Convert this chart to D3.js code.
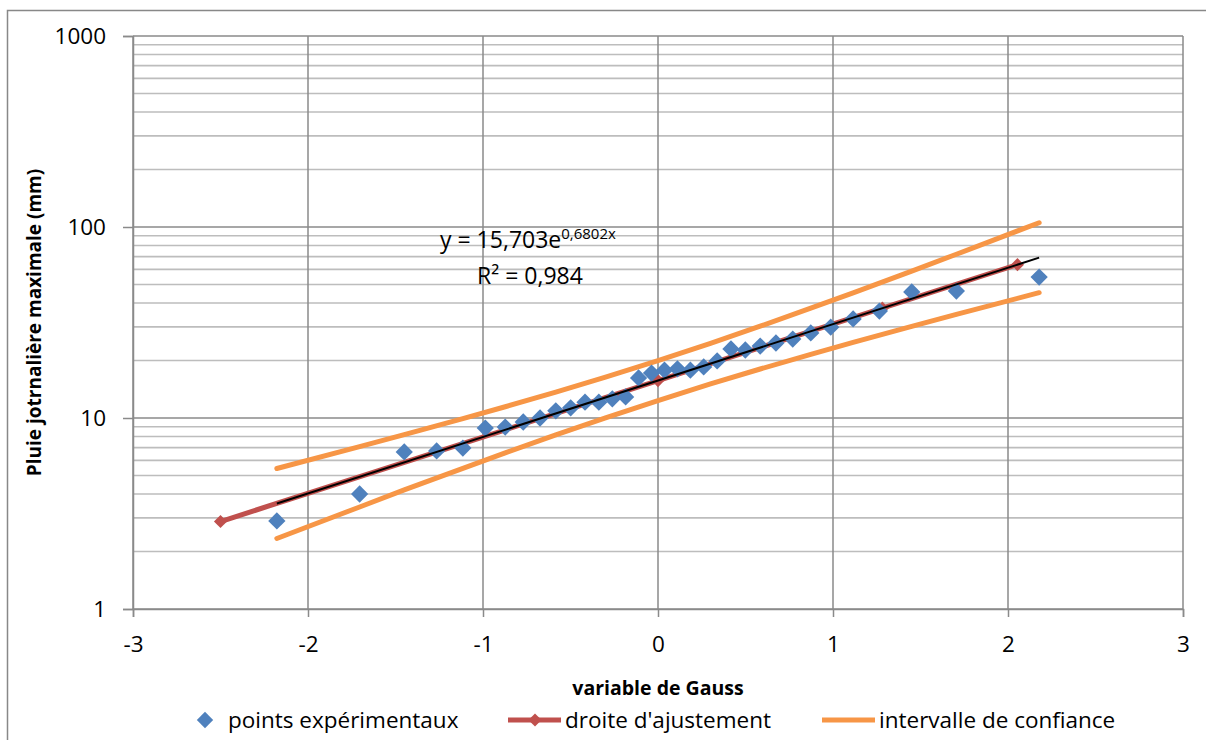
<!DOCTYPE html>
<html>
<head>
<meta charset="utf-8">
<script src="https://cdn.jsdelivr.net/npm/d3@7"></script>
<style>
  body { margin: 0; background: #fff; }
  svg { display: block; font-family: "Open Sans", "DejaVu Sans", sans-serif; }
</style>
</head>
<body>
<div class="chart"></div>
<script>
// gauss variable of each sorted observation
const gaussX = [-2.178, -1.705, -1.450, -1.265, -1.115, -0.987, -0.873, -0.770, -0.674, -0.584,
  -0.499, -0.417, -0.338, -0.261, -0.185, -0.111, -0.037, 0.037, 0.111, 0.185,
  0.261, 0.338, 0.417, 0.499, 0.584, 0.674, 0.770, 0.873, 0.987, 1.115,
  1.265, 1.450, 1.705, 2.178];
// max daily rainfall (mm)
const rainMM = [2.89, 4.0, 6.64, 6.72, 6.96, 8.86, 8.97, 9.53, 10.0, 10.9,
  11.3, 12.1, 12.1, 12.6, 12.9, 16.2, 17.2, 17.8, 18.1, 17.8,
  18.5, 19.9, 23.0, 22.7, 23.8, 24.7, 25.9, 27.9, 29.9, 33.0,
  36.3, 45.7, 46.2, 54.7];

// droite d'ajustement
const fitX = [-2.5, 0, 1.282, 2.054];
const fitY = [2.87, 15.7, 37.6, 63.5];

// excel trendline end points
const trendX = [-2.178, 2.178];
const trendY = [3.57, 69.1];

// intervalle de confiance
const bandX = [-2.178, -1.705, -1.45, -1.115, -0.873, -0.584, -0.3, 0, 0.3, 0.584, 0.873, 1.115, 1.45, 1.705, 2.178];
const bandUpper = [5.44, 7.08, 8.18, 9.92, 11.45, 13.67, 16.37, 19.98, 24.62, 30.24, 37.56, 45.23, 58.76, 72.0, 105.3];
const bandLower = [2.34, 3.42, 4.20, 5.45, 6.57, 8.15, 10.02, 12.34, 15.07, 18.05, 21.54, 24.86, 30.16, 34.85, 45.3];

const xTicks = [-3, -2, -1, 0, 1, 2, 3];
const yTicks = [1, 10, 100, 1000];

const W = 1206, H = 740;
const plot = { left: 133, top: 36, right: 1183, bottom: 609 };

const svg = d3.select('.chart').append('svg').attr('width', W).attr('height', H);

// chart frame
svg.append('rect')
  .attr('x', 7.5).attr('y', 10.5).attr('width', 1300).attr('height', 900)
  .style('fill', 'none').style('stroke', '#888').style('stroke-width', 1.5);

const x = d3.scaleLinear().domain([-3, 3]).range([plot.left, plot.right]);
const y = d3.scaleLog().domain([1, 1000]).range([plot.bottom, plot.top]);

// minor gridlines
const minor = [];
for (let d = 1; d < 1000; d *= 10) for (let k = 2; k <= 9; k++) minor.push(d * k);
svg.append('g').attr('class', 'minor-grid')
  .selectAll('line').data(minor).enter().append('line')
  .attr('x1', plot.left).attr('x2', plot.right)
  .attr('y1', d => y(d)).attr('y2', d => y(d))
  .style('stroke', '#bdbdbd').style('stroke-width', 1.6);

// major gridlines
svg.append('g').attr('class', 'major-grid')
  .selectAll('line').data(yTicks).enter().append('line')
  .attr('x1', plot.left).attr('x2', plot.right)
  .attr('y1', d => y(d)).attr('y2', d => y(d))
  .style('stroke', '#8a8a8a').style('stroke-width', 1.5);
svg.append('g').attr('class', 'major-grid-x')
  .selectAll('line').data(xTicks).enter().append('line')
  .attr('x1', d => x(d)).attr('x2', d => x(d))
  .attr('y1', plot.top).attr('y2', plot.bottom)
  .style('stroke', '#8a8a8a').style('stroke-width', 1.5);

// axes
const yaxis = svg.append('g')
  .attr('transform', `translate(${plot.left},0)`)
  .call(d3.axisLeft(y).tickValues(yTicks).tickFormat(d => String(d)).tickSize(10).tickPadding(17));
const xaxis = svg.append('g')
  .attr('transform', `translate(0,${plot.bottom})`)
  .call(d3.axisBottom(x).tickValues(xTicks).tickFormat(d => String(d)).tickSize(8).tickPadding(19));
[yaxis, xaxis].forEach(g => {
  g.select('.domain').style('stroke', '#8a8a8a').style('stroke-width', 1.5);
  g.selectAll('.tick line').style('stroke', '#8a8a8a').style('stroke-width', 1.5);
  g.selectAll('.tick text').style('font-size', '22.5px').style('fill', '#000')
    .style('font-family', '"Open Sans", sans-serif');
});

const line = d3.line().x(d => x(d[0])).y(d => y(d[1]));

// confidence band
[bandUpper, bandLower].forEach(arr => {
  svg.append('path')
    .attr('d', line(bandX.map((v, i) => [v, arr[i]])))
    .style('fill', 'none').style('stroke', '#F79646').style('stroke-width', 5)
    .style('stroke-linecap', 'round').style('stroke-linejoin', 'round');
});

// fit line
const fitData = fitX.map((v, i) => [v, fitY[i]]);
svg.append('path')
  .attr('d', line(fitData))
  .style('fill', 'none').style('stroke', '#C0504D').style('stroke-width', 5)
  .style('stroke-linecap', 'round');
const diamond = d3.symbol().type(d3.symbolDiamond2);
svg.append('g').selectAll('path').data(fitData).enter().append('path')
  .attr('d', diamond.size(110)())
  .attr('transform', d => `translate(${x(d[0])},${y(d[1])})`)
  .style('fill', '#C0504D');

// experimental points
svg.append('g').attr('class', 'points')
  .selectAll('path').data(gaussX.map((v, i) => [v, rainMM[i]])).enter().append('path')
  .attr('d', diamond.size(190)())
  .attr('transform', d => `translate(${x(d[0])},${y(d[1])})`)
  .style('fill', '#4F81BD');

// exponential trendline
svg.append('path')
  .attr('d', line(trendX.map((v, i) => [v, trendY[i]])))
  .style('fill', 'none').style('stroke', '#000').style('stroke-width', 2);

// equation labels
const eq = svg.append('text').attr('x', 440).attr('y', 248).style('font-size', '23px');
eq.append('tspan').text('y = 15,703e');
eq.append('tspan').attr('dy', -9).style('font-size', '15px').text('0,6802x');
svg.append('text').attr('x', 477).attr('y', 284).style('font-size', '23px').text('R² = 0,984');

// axis titles
svg.append('text')
  .attr('x', (plot.left + plot.right) / 2).attr('y', 695)
  .attr('text-anchor', 'middle')
  .style('font-size', '19.5px').style('font-weight', 'bold')
  .text('variable de Gauss');
svg.append('text')
  .attr('transform', `translate(41,${(plot.top + plot.bottom) / 2}) rotate(-90)`)
  .attr('text-anchor', 'middle')
  .style('font-size', '19px').style('font-weight', 'bold')
  .text('Pluie jotrnalière maximale (mm)');

// legend
const legend = svg.append('g').attr('class', 'legend');
legend.append('path').attr('d', diamond.size(170)())
  .attr('transform', 'translate(205,720)').style('fill', '#4F81BD');
legend.append('text').attr('x', 228).attr('y', 728).style('font-size', '22.5px').text('points expérimentaux');
legend.append('line').attr('x1', 508).attr('x2', 561).attr('y1', 720).attr('y2', 720)
  .style('stroke', '#C0504D').style('stroke-width', 5);
legend.append('path').attr('d', diamond.size(110)())
  .attr('transform', 'translate(535,720)').style('fill', '#C0504D');
legend.append('text').attr('x', 565).attr('y', 728).style('font-size', '22.5px').text("droite d'ajustement");
legend.append('line').attr('x1', 822).attr('x2', 875).attr('y1', 720).attr('y2', 720)
  .style('stroke', '#F79646').style('stroke-width', 5);
legend.append('text').attr('x', 879).attr('y', 728).style('font-size', '22.5px').text('intervalle de confiance');
</script>
</body>
</html>
